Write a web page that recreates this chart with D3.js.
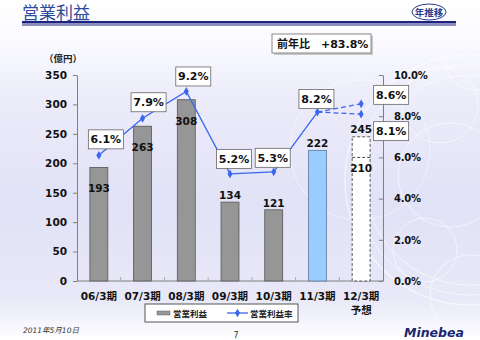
<!DOCTYPE html>
<html><head><meta charset="utf-8">
<script src="https://cdn.jsdelivr.net/npm/d3@7"></script>
<style>
html,body{margin:0;padding:0;background:#fff;}
svg{display:block;}
text{font-family:"DejaVu Sans","Noto Sans CJK JP",sans-serif;}
</style></head>
<body>
<svg id="c" width="480" height="340"></svg>
<script>
const categories = ["06/3期","07/3期","08/3期","09/3期","10/3期","11/3期","12/3期"];
const profit = [193, 263, 308, 134, 121, 222, null];
const forecastHigh = 245;
const forecastLow = 210;
const margin = [6.1, 7.9, 9.2, 5.2, 5.3, 8.2, null];
const forecastMarginHigh = 8.6;
const forecastMarginLow = 8.1;
const leftTicks = [0,50,100,150,200,250,300,350];
const rightTicks = [0,2,4,6,8,10];
const yoyText = "前年比　+83.8%";

const svg = d3.select("#c");
const defs = svg.append("defs");
const g = defs.append("linearGradient").attr("id","bg").attr("x1",0).attr("y1",0).attr("x2",0).attr("y2",1);
[[0,"#ffffff"],[0.12,"#fafaff"],[0.3,"#ebebfa"],[0.6,"#e2e2f7"],[0.88,"#e8e8f8"],[1,"#ffffff"]].forEach(s=>g.append("stop").attr("offset",s[0]).attr("stop-color",s[1]));
svg.append("rect").attr("width",480).attr("height",340).attr("fill","url(#bg)");

// decorative circles
const deco = svg.append("g").attr("fill","none").attr("stroke","#ffffff").attr("stroke-opacity",0.55);
[[470,180,125,1.5],[470,180,115,1],[470,180,105,1],[440,105,38,1],[475,60,30,1],[450,175,52,1],[425,250,32,1],[470,295,40,1],[360,150,70,0.8]].forEach(c=>deco.append("circle").attr("cx",c[0]).attr("cy",c[1]).attr("r",c[2]).attr("stroke-width",c[3]));

// title
svg.append("text").attr("x",22).attr("y",19).attr("font-size",17).attr("fill","#2b4a9c").attr("font-family","Noto Sans CJK JP").text("営業利益");
svg.append("rect").attr("x",22).attr("y",21).attr("width",434).attr("height",2.5).attr("fill","#1c237e");
svg.append("rect").attr("x",22).attr("y",24.5).attr("width",434).attr("height",1).attr("fill","#1c237e");
svg.append("ellipse").attr("cx",429).attr("cy",12).attr("rx",17).attr("ry",8).attr("fill","#fff").attr("stroke","#2b3a8c").attr("stroke-width",1);
svg.append("text").attr("x",429).attr("y",15.5).attr("text-anchor","middle").attr("font-size",9.5).attr("font-weight","bold").attr("fill","#2b3a8c").attr("font-family","Noto Sans CJK JP").text("年推移");

// yoy box
svg.append("rect").attr("x",274).attr("y",36).attr("width",99).attr("height",19).attr("fill","#c8c8c8");
svg.append("rect").attr("x",272).attr("y",34).attr("width",99).attr("height",19).attr("fill","#fff").attr("stroke","#888");
svg.append("text").attr("x",277).attr("y",48).attr("font-size",11).attr("font-weight","bold").attr("fill","#111").text(yoyText);

svg.append("text").attr("x",44).attr("y",62).attr("font-size",9.5).attr("font-weight","bold").attr("fill","#222").attr("font-family","Noto Sans CJK JP").text("（億円）");

// scales
const x = d3.scaleBand().domain(categories).range([77,383]).paddingInner(0.59).paddingOuter(0.295);
const yL = d3.scaleLinear().domain([0,350]).range([281,75]);
const yR = d3.scaleLinear().domain([0,10]).range([281,75]);
const cx = c => x(c) + x.bandwidth()/2;

// axes
const axL = svg.append("g").attr("transform","translate(77,0)").call(d3.axisLeft(yL).tickValues(leftTicks).tickSize(4).tickSizeOuter(0));
axL.selectAll("text").attr("font-size",10.5).attr("font-weight","bold").attr("fill","#111").attr("x",-10);
const axR = svg.append("g").attr("transform","translate(383,0)").call(d3.axisRight(yR).tickValues(rightTicks).tickSize(-4).tickSizeOuter(0).tickFormat(d=>d.toFixed(1)+"%"));
axR.selectAll("text").attr("font-size",10).attr("font-weight","bold").attr("fill","#111").attr("x",11).attr("letter-spacing",-0.2);
[axL,axR].forEach(a=>{a.select(".domain").attr("stroke","#808080");a.selectAll(".tick line").attr("stroke","#808080");});

// x axis
svg.append("line").attr("x1",77).attr("x2",383).attr("y1",281).attr("y2",281).attr("stroke","#808080");
const step = x.step();
categories.slice(1).forEach(c=>{
  svg.append("line").attr("x1",x(c)-x.bandwidth()*0.59/0.41/2*1).attr("x2",x(c)-x.bandwidth()*0.59/0.41/2).attr("y1",281).attr("y2",277).attr("stroke","#aaa");
});
svg.append("g").selectAll("text").data(categories).join("text")
  .attr("x",d=>cx(d)).attr("y",300).attr("text-anchor","middle").attr("font-size",10.5).attr("font-weight","bold").attr("fill","#111").text(d=>d);
svg.append("text").attr("x",cx(categories[6])).attr("y",314).attr("text-anchor","middle").attr("font-size",10.5).attr("font-weight","bold").attr("fill","#111").attr("font-family","Noto Sans CJK JP").text("予想");

// bars
const barData = categories.map((c,i)=>({c,v:profit[i],i})).filter(d=>d.v!==null);
svg.append("g").selectAll("rect").data(barData).join("rect")
  .attr("x",d=>x(d.c)).attr("width",x.bandwidth()).attr("y",d=>yL(d.v)).attr("height",d=>yL(0)-yL(d.v))
  .attr("fill",d=>d.i===5?"#99ccff":"#969696").attr("stroke",d=>d.i===5?"#5a7a9a":"#555").attr("stroke-width",0.8);
// forecast bar
const fc = categories[6];
svg.append("rect").attr("x",x(fc)).attr("width",x.bandwidth()).attr("y",yL(forecastHigh)).attr("height",yL(0)-yL(forecastHigh))
  .attr("fill","#fff").attr("stroke","#444").attr("stroke-width",0.9).attr("stroke-dasharray","3,2");
svg.append("line").attr("x1",x(fc)).attr("x2",x(fc)+x.bandwidth()).attr("y1",yL(forecastLow)).attr("y2",yL(forecastLow)).attr("stroke","#444").attr("stroke-dasharray","3,2");

// bar labels
const inside = [true,true,true,false,false,false];
svg.append("g").selectAll("text").data(barData).join("text")
  .attr("x",d=>cx(d.c)).attr("y",d=>inside[d.i]?yL(d.v)+25:yL(d.v)-3)
  .attr("text-anchor","middle").attr("font-size",10.5).attr("font-weight","bold").attr("fill","#111").text(d=>d.v);
svg.append("text").attr("x",cx(fc)).attr("y",yL(forecastHigh)-4).attr("text-anchor","middle").attr("font-size",10.5).attr("font-weight","bold").attr("fill","#111").text(forecastHigh);
svg.append("text").attr("x",cx(fc)).attr("y",yL(forecastLow)+15).attr("text-anchor","middle").attr("font-size",10.5).attr("font-weight","bold").attr("fill","#111").text(forecastLow);

// line
const lineColor = "#3a66f0";
const pts = categories.map((c,i)=>({c,v:margin[i]})).filter(d=>d.v!==null);
const line = d3.line().x(d=>cx(d.c)).y(d=>yR(d.v));
svg.append("path").datum(pts).attr("d",line).attr("fill","none").attr("stroke",lineColor).attr("stroke-width",1.3);
const last = pts[pts.length-1];
[forecastMarginHigh,forecastMarginLow].forEach(v=>{
  svg.append("path").datum([last,{c:fc,v}]).attr("d",line).attr("fill","none").attr("stroke",lineColor).attr("stroke-width",1.3).attr("stroke-dasharray","5,3");
});
const allPts = pts.concat([{c:fc,v:forecastMarginHigh},{c:fc,v:forecastMarginLow}]);
const diamond = d3.symbol().type(d3.symbolDiamond).size(22);
svg.append("g").selectAll("path").data(allPts).join("path")
  .attr("transform",d=>`translate(${cx(d.c)},${yR(d.v)})`).attr("d",diamond).attr("fill",lineColor);

// pct label boxes
const labelOffsets = [[7,-16],[6,-16],[7,-15],[4,-15],[-1,-14],[-1,-13],[30,-9],[30,17]];
allPts.forEach((d,i)=>{
  const px = cx(d.c)+labelOffsets[i][0], py = yR(d.v)+labelOffsets[i][1];
  svg.append("rect").attr("x",px-17.5).attr("y",py-9.5).attr("width",35).attr("height",19).attr("fill","#fff").attr("stroke","#666").attr("stroke-width",0.8);
  svg.append("text").attr("x",px).attr("y",py+4).attr("text-anchor","middle").attr("font-size",11).attr("font-weight","bold").attr("fill","#111").text(d.v.toFixed(1)+"%");
});

// legend
svg.append("rect").attr("x",145).attr("y",304).attr("width",153).attr("height",18).attr("fill","#fff").attr("stroke","#555");
svg.append("rect").attr("x",157).attr("y",311).attr("width",13).attr("height",4).attr("fill","#969696").attr("stroke","#666").attr("stroke-width",0.5);
svg.append("text").attr("x",173).attr("y",317).attr("font-size",8.5).attr("font-weight","bold").attr("fill","#222").attr("font-family","Noto Sans CJK JP").text("営業利益");
svg.append("line").attr("x1",227).attr("x2",248).attr("y1",313).attr("y2",313).attr("stroke",lineColor).attr("stroke-width",1.3);
svg.append("path").attr("transform","translate(237.5,313)").attr("d",diamond).attr("fill",lineColor);
svg.append("text").attr("x",250).attr("y",317).attr("font-size",8.5).attr("font-weight","bold").attr("fill","#222").attr("font-family","Noto Sans CJK JP").text("営業利益率");

// footer
svg.append("text").attr("x",23).attr("y",333).attr("font-size",7.5).attr("font-style","italic").attr("fill","#333").attr("font-family","Noto Sans CJK JP").text("2011年5月10日");
svg.append("text").attr("x",236).attr("y",338).attr("text-anchor","middle").attr("font-size",8).attr("fill","#333").text("7");
svg.append("text").attr("x",404).attr("y",337).attr("font-size",12.5).attr("font-style","italic").attr("font-weight","bold").attr("fill","#1a2770").attr("font-family","Liberation Sans").text("Minebea");
</script>
</body></html>
